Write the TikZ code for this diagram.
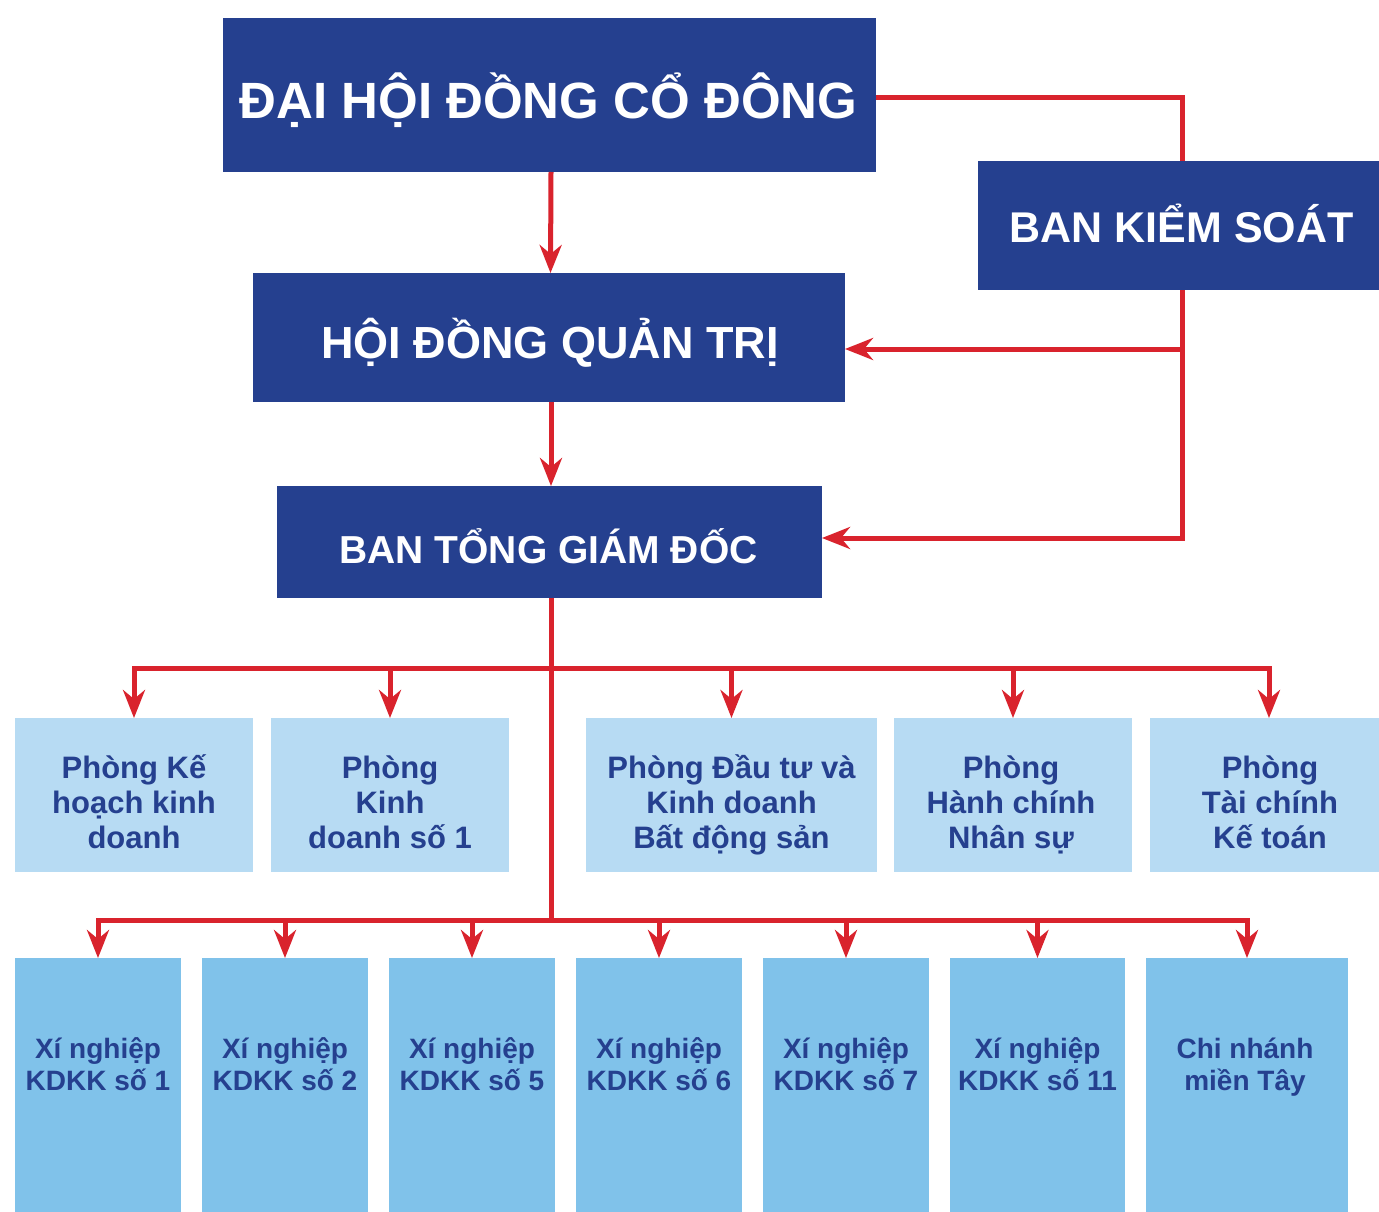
\documentclass[tikz,border=0pt]{standalone}
\usepackage{fontspec}
\setmainfont{Liberation Sans}
\usetikzlibrary{arrows.meta}
\definecolor{navy}{HTML}{25408F}
\definecolor{lbone}{HTML}{B7DBF3}
\definecolor{lbtwo}{HTML}{80C2EA}
\definecolor{rd}{HTML}{D9232D}
\begin{document}
\begin{tikzpicture}[x=1pt,y=-1pt,
  conn/.style={draw=rd, line width=5pt},
  hline/.style={conn, line cap=rect},
  arr/.style={conn,-{Stealth[length=28pt,width=22pt,inset=9pt]}},
  topbox/.style={fill=navy, inner sep=0pt, outer sep=0pt},
  toptext/.style={text=white, inner sep=0pt, anchor=base, font=\bfseries},
  deptbox/.style={fill=lbone, inner sep=0pt, outer sep=0pt, minimum height=154pt},
  depttext/.style={text=navy, align=center, inner sep=0pt, anchor=base, font=\bfseries\fontsize{31}{35}\selectfont},
  unitbox/.style={fill=lbtwo, inner sep=0pt, outer sep=0pt, minimum height=254pt},
  unittext/.style={text=navy, align=center, inner sep=0pt, anchor=base, font=\bfseries\fontsize{28}{32}\selectfont}
]
\useasboundingbox (0,0) rectangle (1379,1212);
\fill[white] (0,0) rectangle (1379,1212);

% top boxes
\node[topbox, minimum width=653pt, minimum height=154pt] (dh) at (549.5,95) {};
\node[topbox, minimum width=408pt, minimum height=129pt] (bks) at (1182,225.5) {};
\node[topbox, minimum width=592pt, minimum height=129pt] (hdqt) at (549,337.5) {};
\node[topbox, minimum width=545pt, minimum height=112pt] (btgd) at (549.5,542) {};

\node[toptext, font=\bfseries\fontsize{51}{60}\selectfont] (dht) at (548.5,119) {ĐẠI HỘI ĐỒNG CỔ ĐÔNG};
\node[toptext, font=\bfseries\fontsize{43}{50}\selectfont] (bkst) at (1181.5,242) {BAN KIỂM SOÁT};
\node[toptext, font=\bfseries\fontsize{45}{52}\selectfont] (hdqtt) at (550,358) {HỘI ĐỒNG QUẢN TRỊ};
\node[toptext, font=\bfseries\fontsize{39}{46}\selectfont] (btgdt) at (548.5,563) {BAN TỔNG GIÁM ĐỐC};

% department boxes
\node[deptbox, minimum width=238pt] (p1) at (134,795) {};
\node[deptbox, minimum width=238pt] (p2) at (390,795) {};
\node[deptbox, minimum width=291pt] (p3) at (731.5,795) {};
\node[deptbox, minimum width=238pt] (p4) at (1013,795) {};
\node[deptbox, minimum width=238pt] (p5) at (1269,795) {};

\node[depttext] (p1t) at (134,848) {Phòng Kế\\hoạch kinh\\doanh};
\node[depttext] (p2t) at (390,848) {Phòng\\Kinh\\doanh số 1};
\node[depttext] (p3t) at (731.5,848) {Phòng Đầu tư và\\Kinh doanh\\Bất động sản};
\node[depttext] (p4t) at (1011,848) {Phòng\\Hành chính\\Nhân sự};
\node[depttext] (p5t) at (1270,848) {Phòng\\Tài chính\\Kế toán};

% unit boxes
\node[unitbox, minimum width=166pt] (u1) at (98,1085) {};
\node[unitbox, minimum width=166pt] (u2) at (285,1085) {};
\node[unitbox, minimum width=166pt] (u3) at (472,1085) {};
\node[unitbox, minimum width=166pt] (u4) at (659,1085) {};
\node[unitbox, minimum width=166pt] (u5) at (846,1085) {};
\node[unitbox, minimum width=175pt] (u6) at (1037.5,1085) {};
\node[unitbox, minimum width=202pt] (u7) at (1247,1085) {};

\node[unittext] (t1) at (98,1090) {Xí nghiệp\\KDKK số 1};
\node[unittext] (t2) at (285,1090) {Xí nghiệp\\KDKK số 2};
\node[unittext] (t3) at (472,1090) {Xí nghiệp\\KDKK số 5};
\node[unittext] (t4) at (659,1090) {Xí nghiệp\\KDKK số 6};
\node[unittext] (t5) at (846,1090) {Xí nghiệp\\KDKK số 7};
\node[unittext] (t6) at (1037.5,1090) {Xí nghiệp\\KDKK số 11};
\node[unittext] (t7) at (1245,1090) {Chi nhánh\\miền Tây};

% connectors upper
\draw[arr] ([xshift=1.5pt]dh.south) -- ([xshift=1.5pt]hdqt.north);
\draw[arr] ([xshift=2pt]hdqt.south) -- ([xshift=1.5pt]btgd.north);
\draw[conn] ([yshift=-3pt]dh.east) -| (bks.north);
\draw[arr] (bks.south) |- ([yshift=4pt]btgd.east);
\draw[arr] (bks.south |- 0,349) -- ([yshift=-11.5pt]hdqt.east);

% trunk
\coordinate (j1) at (551,668);
\coordinate (j2) at (551,920);
\draw[conn] ([xshift=1.5pt]btgd.south) -- (j2);

% row 1
\draw[hline] (j1 -| p1.north) -- (j1 -| p5.north);
\foreach \p in {p1,p2,p3,p4,p5}{
  \draw[arr] (j1 -| \p.north) -- (\p.north);
}
% row 2
\draw[hline] (j2 -| u1.north) -- (j2 -| u7.north);
\foreach \u in {u1,u2,u3,u4,u5,u6,u7}{
  \draw[arr] (j2 -| \u.north) -- (\u.north);
}
\end{tikzpicture}
\end{document}
